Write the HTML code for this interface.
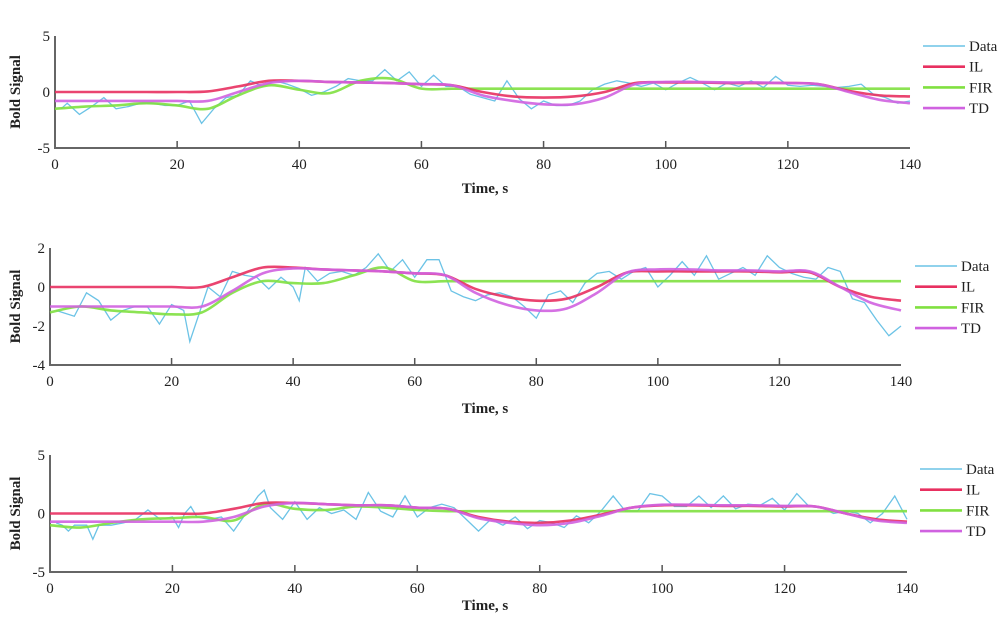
<!DOCTYPE html>
<html><head><meta charset="utf-8"><style>
body{margin:0;background:#fff;width:1000px;height:616px;overflow:hidden}
svg text{font-family:"Liberation Serif",serif;fill:#222}
</style></head><body>
<svg id="chart" width="1000" height="616" xmlns="http://www.w3.org/2000/svg"></svg>
<script>
// Panel 1
const p1DataT=[1,2,4,6,8,10,12,14,16,18,20,22,24,26,28,30,32,34,36,38,40,42,44,46,48,50,52,54,56,58,60,62,64,66,68,70,72,74,76,78,80,82,84,86,88,90,92,94,96,98,100,102,104,106,108,110,112,114,116,118,120,122,124,126,128,130,132,134,136,138,140];
const p1Data=[-1.5,-1,-2,-1.3,-0.5,-1.5,-1.3,-1,-1,-1.2,-1.2,-0.8,-2.8,-1.5,-0.5,-0.3,1,0.5,1,0.7,0.3,-0.3,0,0.5,1.2,1,1,2,1,1.8,0.5,1.5,0.5,0.5,-0.2,-0.5,-0.8,1,-0.6,-1.5,-0.8,-1.2,-1.2,-0.8,0.2,0.7,1,0.8,0.5,0.8,0.2,0.8,1.3,0.8,0.2,0.8,0.5,1,0.4,1.4,0.6,0.5,0.6,0.5,0.4,0.5,0.7,-0.2,-0.5,-1,-0.8];
const smoothT=[0,5,10,15,20,25,30,35,40,45,50,55,60,65,70,75,80,85,90,95,100,105,110,115,120,125,130,135,140];
const p1IL=[0,0,0,0,0,0.05,0.5,1,1,0.9,0.85,0.8,0.7,0.6,0,-0.4,-0.5,-0.4,0,0.8,0.85,0.85,0.8,0.8,0.8,0.7,0.1,-0.3,-0.4];
const p1TD=[-0.8,-0.8,-0.8,-0.8,-0.8,-0.8,0,0.8,1,0.9,0.85,0.8,0.7,0.6,-0.3,-0.8,-1.1,-1.1,-0.5,0.7,0.9,0.9,0.85,0.85,0.8,0.7,0,-0.7,-1];
const p1FIR=[-1.5,-1.3,-1.2,-1,-1.2,-1.5,-0.3,0.6,0.2,-0.1,1,1.2,0.3,0.3,0.3,0.3,0.3,0.3,0.3,0.3,0.3,0.3,0.3,0.3,0.3,0.3,0.3,0.3,0.3];
// Panel 2
const p2DataT=[1,2,4,6,8,10,12,14,16,18,20,22,23,26,28,30,32,34,36,38,40,41,42,44,46,48,50,52,54,56,58,60,62,64,66,68,70,72,74,76,78,80,82,84,86,88,90,92,94,96,98,100,102,104,106,108,110,112,114,116,118,120,122,124,126,128,130,132,134,136,138,140];
const p2Data=[-1.2,-1.3,-1.5,-0.3,-0.7,-1.7,-1.2,-1,-1,-1.9,-0.9,-1.2,-2.8,0,-0.5,0.8,0.6,0.5,-0.1,0.5,0,-0.7,1,0.3,0.7,0.8,0.6,1,1.7,0.8,1.4,0.5,1.4,1.4,-0.2,-0.5,-0.7,-0.4,-0.3,-0.5,-1,-1.6,-0.4,-0.2,-0.8,0.2,0.7,0.8,0.4,0.8,1,0,0.6,1.3,0.6,1.6,0.4,0.7,1,0.6,1.6,1,0.7,0.5,0.4,1,0.8,-0.6,-0.8,-1.7,-2.5,-2];
const p2IL=[0,0,0,0,0,0,0.5,1,1,0.9,0.85,0.8,0.7,0.6,-0.1,-0.5,-0.7,-0.6,0,0.75,0.8,0.8,0.8,0.8,0.75,0.75,0,-0.5,-0.7];
const p2TD=[-1,-1,-1,-1,-1,-1,-0.2,0.7,0.95,0.9,0.85,0.8,0.7,0.6,-0.3,-0.9,-1.2,-1.1,-0.3,0.75,0.9,0.9,0.85,0.85,0.8,0.8,0,-0.8,-1.2];
const p2FIR=[-1.3,-1,-1.2,-1.3,-1.4,-1.3,-0.3,0.3,0.2,0.2,0.6,1,0.3,0.3,0.3,0.3,0.3,0.3,0.3,0.3,0.3,0.3,0.3,0.3,0.3,0.3,0.3,0.3,0.3];
// Panel 3
const p3DataT=[1,2,3,4,6,7,8,10,12,14,16,18,20,21,22,23,24,26,28,30,32,34,35,36,38,40,42,44,46,48,50,52,54,56,58,60,62,64,66,68,70,72,74,76,78,80,82,84,86,88,90,92,94,96,98,100,102,104,106,108,110,112,114,116,118,120,122,124,126,128,130,132,134,136,138,140];
const p3Data=[-0.8,-1,-1.5,-1,-1,-2.2,-1,-1,-0.8,-0.5,0.3,-0.5,-0.3,-1.2,0,0.6,-0.3,-0.5,-0.3,-1.5,0,1.5,2,0.5,-0.5,1,-0.5,0.5,0,0.3,-0.5,1.8,0.2,-0.3,1.5,-0.3,0.5,0.8,0.5,-0.5,-1.5,-0.5,-1,-0.3,-1.3,-0.6,-0.8,-1.2,-0.2,-0.8,0.2,1.5,0.2,0.2,1.7,1.5,0.6,0.6,1.5,0.5,1.5,0.4,0.8,0.7,1.3,0.3,1.7,0.6,0.5,0,0.2,0,-0.8,0,1.5,-0.5];
const p3IL=[0,0,0,0,0,0,0.4,0.9,0.9,0.8,0.7,0.7,0.5,0.4,-0.3,-0.7,-0.8,-0.6,-0.1,0.5,0.7,0.7,0.65,0.65,0.6,0.6,0,-0.5,-0.7];
const p3TD=[-0.7,-0.7,-0.7,-0.7,-0.7,-0.7,-0.3,0.6,0.9,0.8,0.7,0.7,0.5,0.4,-0.4,-0.8,-1,-0.8,-0.2,0.5,0.75,0.75,0.7,0.7,0.65,0.6,0,-0.6,-0.8];
const p3FIR=[-1,-1.2,-0.8,-0.5,-0.4,-0.3,-0.6,0.8,0.4,0.3,0.6,0.5,0.3,0.2,0.2,0.2,0.2,0.2,0.2,0.2,0.2,0.2,0.2,0.2,0.2,0.2,0.2,0.2,0.2];
const xTicks=[0,20,40,60,80,100,120,140];
const p1YTicks=[5,0,-5], p2YTicks=[2,0,-2,-4], p3YTicks=[5,0,-5];
const legendLabels=["Data","IL","FIR","TD"];

const NS="http://www.w3.org/2000/svg";
const svg=document.getElementById('chart');
const colors={Data:"#6cc3e6",IL:"#e83060",FIR:"#80e040",TD:"#d062e0"};
function mk(tag,attrs,parent){const e=document.createElementNS(NS,tag);for(const k in attrs)e.setAttribute(k,attrs[k]);(parent||svg).appendChild(e);return e;}
function smoothPath(pts){let d=`M${pts[0][0]},${pts[0][1]}`;for(let i=0;i<pts.length-1;i++){const p0=pts[i-1]||pts[i],p1=pts[i],p2=pts[i+1],p3=pts[i+2]||p2;
 d+=` C${p1[0]+(p2[0]-p0[0])/6},${p1[1]+(p2[1]-p0[1])/6} ${p2[0]-(p3[0]-p1[0])/6},${p2[1]-(p3[1]-p1[1])/6} ${p2[0]},${p2[1]}`;}return d;}
const panels=[
 {n:1,x0:55,x1:910,yTop:36,yBot:148,ymax:5,ymin:-5,yt:p1YTicks,dT:p1DataT,d:p1Data,il:p1IL,td:p1TD,fir:p1FIR,ly:46,lx:923,titleY:193},
 {n:2,x0:50,x1:901,yTop:248,yBot:365,ymax:2,ymin:-4,yt:p2YTicks,dT:p2DataT,d:p2Data,il:p2IL,td:p2TD,fir:p2FIR,ly:266,lx:915,titleY:413},
 {n:3,x0:50,x1:907,yTop:455,yBot:572,ymax:5,ymin:-5,yt:p3YTicks,dT:p3DataT,d:p3Data,il:p3IL,td:p3TD,fir:p3FIR,ly:469,lx:920,titleY:610}
];
panels.forEach(p=>{
 const g=mk('g',{});
 
 
 const X=t=>p.x0+(t/140)*(p.x1-p.x0);
 const Y=v=>p.yBot-(v-p.ymin)/(p.ymax-p.ymin)*(p.yBot-p.yTop);
 const ax=mk('path',{d:`M${p.x0},${p.yTop} V${p.yBot} H${p.x1}`,fill:"none",stroke:"#666","stroke-width":2},g);
 
 
 xTicks.forEach(t=>{
  if(t>0&&t<140){const tk=mk('line',{x1:X(t),x2:X(t),y1:p.yBot,y2:p.yBot-7,stroke:"#555","stroke-width":1.5},g);
   
   }
  const tl=mk('text',{x:X(t),y:p.yBot+21,"text-anchor":"middle","font-size":15},g);
  
  
  tl.textContent=t;
 });
 p.yt.forEach(v=>{
  const tl=mk('text',{x:p.x0-5,y:Y(v)+5,"text-anchor":"end","font-size":15},g);
  
  
  tl.textContent=v;
 });
 const yt=mk('text',{x:0,y:0,"text-anchor":"middle","font-size":15,"font-weight":"bold",transform:`translate(20,${(p.yTop+p.yBot)/2}) rotate(-90)`},g);
 
 
 yt.textContent="Bold Signal";
 const xt=mk('text',{x:485,y:p.titleY,"text-anchor":"middle","font-size":15,"font-weight":"bold"},g);
 
 
 xt.textContent="Time, s";
 const series=[["FIR",p.fir],["IL",p.il],["TD",p.td]];
 const dl=mk('polyline',{points:p.dT.map((t,i)=>X(t)+","+Y(p.d[i])).join(" "),fill:"none",stroke:colors.Data,"stroke-width":1.3},g);
 
 
 series.forEach(([k,arr])=>{
  const pl=mk('path',{d:smoothPath(smoothT.map((t,i)=>[X(t),Y(arr[i])])),fill:"none",stroke:colors[k],"stroke-width":2.6,"stroke-opacity":0.9},g);
  
  
 });
 legendLabels.forEach((k,i)=>{
  const ly=p.ly+i*20.7;
  const le=mk('g',{},g);
  
  
  mk('line',{x1:p.lx,x2:p.lx+42,y1:ly,y2:ly,stroke:colors[k],"stroke-width":k==="Data"?1.5:2.6},le);
  const t=mk('text',{x:p.lx+46,y:ly+5,"font-size":15},le);
  t.textContent=k;
 });
});
</script>
</body></html>
